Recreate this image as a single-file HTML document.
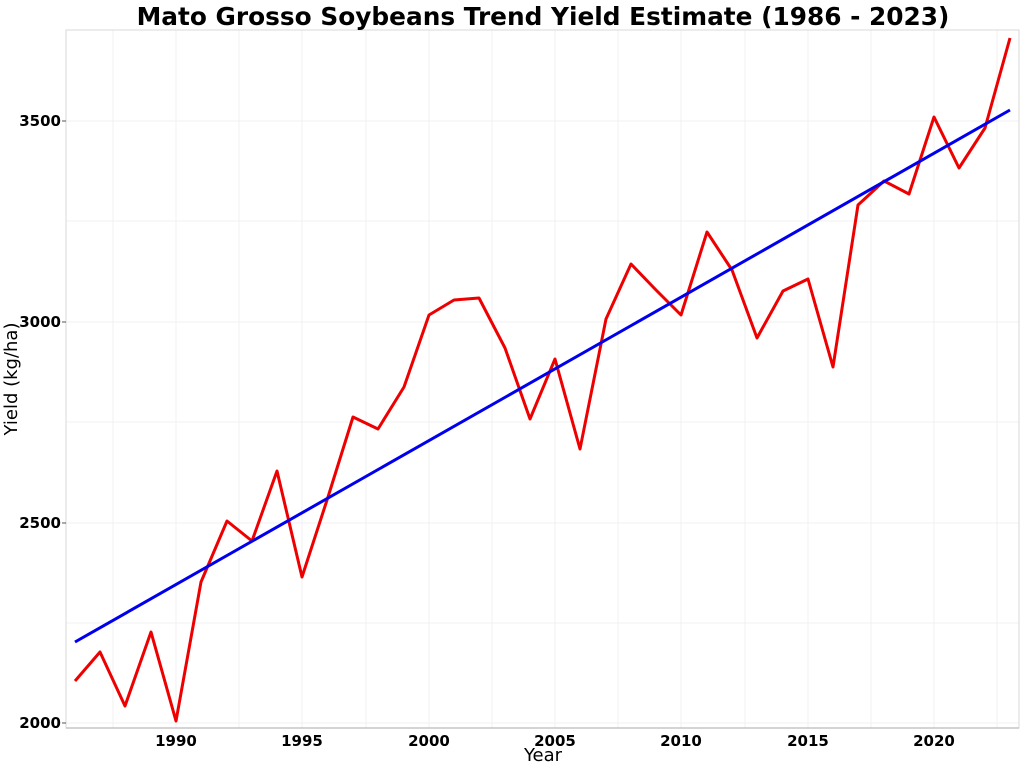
<!DOCTYPE html>
<html><head><style>body{margin:0;background:#fff}svg{display:block}text{font-family:"DejaVu Sans","Liberation Sans",sans-serif}</style></head><body>
<svg width="1024" height="768" xmlns="http://www.w3.org/2000/svg">
<rect width="1024" height="768" fill="#fff"/>
<g stroke="#f0f0f0" stroke-width="1">
<line x1="113" y1="30" x2="113" y2="728"/><line x1="176" y1="30" x2="176" y2="728"/><line x1="239" y1="30" x2="239" y2="728"/><line x1="302" y1="30" x2="302" y2="728"/><line x1="366" y1="30" x2="366" y2="728"/><line x1="429" y1="30" x2="429" y2="728"/><line x1="492" y1="30" x2="492" y2="728"/><line x1="555" y1="30" x2="555" y2="728"/><line x1="618" y1="30" x2="618" y2="728"/><line x1="681" y1="30" x2="681" y2="728"/><line x1="745" y1="30" x2="745" y2="728"/><line x1="808" y1="30" x2="808" y2="728"/><line x1="871" y1="30" x2="871" y2="728"/><line x1="934" y1="30" x2="934" y2="728"/><line x1="997" y1="30" x2="997" y2="728"/>
<line x1="66" y1="121" x2="1019" y2="121"/><line x1="66" y1="221" x2="1019" y2="221"/><line x1="66" y1="322" x2="1019" y2="322"/><line x1="66" y1="422" x2="1019" y2="422"/><line x1="66" y1="523" x2="1019" y2="523"/><line x1="66" y1="623" x2="1019" y2="623"/><line x1="66" y1="723" x2="1019" y2="723"/>
</g>
<rect x="66" y="30" width="953" height="698" fill="none" stroke="#d8d8d8" stroke-width="1"/>
<line x1="66" y1="728" x2="1019" y2="728" stroke="#aaa"/>
<g stroke="#555"><line x1="62" y1="121" x2="66" y2="121"/><line x1="62" y1="322" x2="66" y2="322"/><line x1="62" y1="523" x2="66" y2="523"/><line x1="62" y1="723" x2="66" y2="723"/></g>
<g font-size="15" font-weight="bold" text-anchor="end">
<text x="61" y="126">3500</text><text x="61" y="327">3000</text><text x="61" y="528">2500</text><text x="61" y="728">2000</text></g>
<g font-size="15" font-weight="bold" text-anchor="middle">
<text x="176" y="746">1990</text><text x="302" y="746">1995</text><text x="429" y="746">2000</text><text x="555" y="746">2005</text><text x="681" y="746">2010</text><text x="808" y="746">2015</text><text x="934" y="746">2020</text></g>
<text x="543" y="761" font-size="18" text-anchor="middle">Year</text>
<text x="17" y="379" font-size="18" text-anchor="middle" transform="rotate(-90 17 379)">Yield (kg/ha)</text>
<text x="543" y="25" font-size="24.8" font-weight="bold" text-anchor="middle">Mato Grosso Soybeans Trend Yield Estimate (1986 - 2023)</text>
<polyline fill="none" stroke="#ee0000" stroke-width="3" stroke-linejoin="round" points="75,681 100,652 125,706 151,632 176,721 201,582 227,521 252,541 277,471 302,577 328,497 353,417 378,429 404,387 429,315 454,300 479,298 505,348 530,419 555,359 580,449 606,319 631,264 656,290 681,315 707,232 732,270 757,338 783,291 808,279 833,367 858,205 884,181 909,194 934,117 959,168 985,128 1010,38"/>
<line x1="75" y1="642" x2="1010" y2="110" stroke="#0000ee" stroke-width="3"/>
</svg>
</body></html>
